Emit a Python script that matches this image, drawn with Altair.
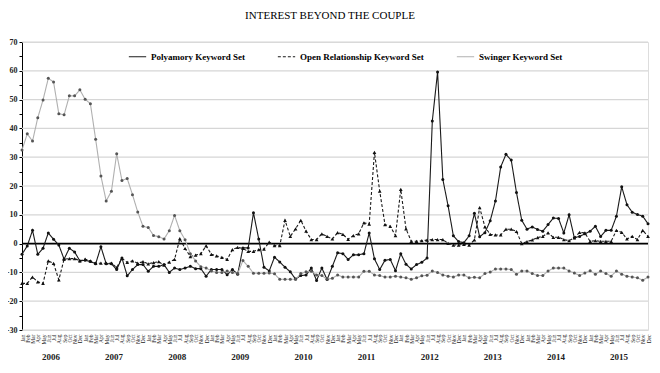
import json
import altair as alt
import pandas as pd

month_names = ["Jan", "Feb", "Mar", "Apr", "May", "Jun", "Jul", "Aug", "Sep", "Oct", "Nov", "Dec"]
years = list(range(2006, 2016))
series_names = ["Polyamory Keyword Set", "Open Relationship Keyword Set", "Swinger Keyword Set"]
grid_values = list(range(-30, 71, 10))

poly = [
    -3.7, -0.8, 4.6, -3.7, -1.6, 3.7, 1.5, -0.5, -5.4, -1.6, -2.9, -6.0,
    -5.8, -6.2, -7.0, -1.1, -7.0, -7.0, -9.0, -5.0, -11.2, -9.0, -7.3, -7.3,
    -9.6, -7.9, -7.9, -7.3, -10.0, -8.5, -9.0, -8.5, -7.9, -8.7, -8.7, -11.3,
    -9.0, -9.0, -9.0, -10.8, -9.0, -10.6, -1.5, -1.5, 10.7, 1.6, -8.2, -9.5,
    -4.7, -6.4, -8.2, -9.8, -12.3, -11.1, -10.9, -8.5, -12.8, -8.5, -12.5, -7.9,
    -3.2, -3.5, -5.5, -3.9, -3.9, -3.5, 3.7, -5.3, -9.0, -5.8, -5.5, -9.4,
    -3.5, -7.2, -8.8, -7.3, -6.5, -5.0, 42.6, 59.6, 22.3, 13.1, 2.7, 0.7,
    0.3, 2.7, 10.5, 2.4, 3.8, 7.9, 14.8, 26.6, 31.0, 29.0, 17.7, 8.1,
    5.0, 5.8, 4.9, 4.3, 6.6, 8.9, 8.7, 3.7, 10.0, 2.0, 2.5, 3.4,
    4.3, 6.0, 2.5, 4.6, 4.6, 9.5, 19.7, 13.5, 10.9, 10.1, 9.5, 6.9,
]

open_rel = [
    -13.8, -13.8, -11.6, -13.3, -13.8, -6.0, -6.9, -12.6, -5.4, -5.2, -5.2, -6.0,
    -5.4, -6.0, -6.8, -6.8, -6.8, -6.8, -8.3, -5.1, -6.5, -6.0, -6.8, -6.3,
    -7.0, -6.6, -6.3, -7.5, -6.4, -5.5, 1.7, -1.7, -4.5, -4.0, -3.5, -0.8,
    -3.7, -4.3, -4.8, -5.5, -2.1, -1.3, -1.7, -2.7, -2.7, -2.1, -1.9, 0.5,
    -0.7, -0.7, 8.1, 2.5, 5.1, 8.1, 4.3, 1.4, 1.4, 3.4, 2.5, 1.6,
    3.8, 3.2, 1.5, 2.8, 3.4, 7.2, 6.8, 31.7, 18.2, 6.6, 6.0, 2.8,
    18.8, 5.1, 0.8, 0.8, 1.0, 1.2, 1.4, 1.4, 1.4, 0.1, -0.5, -0.5,
    -0.3, -0.5, 1.3, 12.5, 5.8, 3.2, 3.0, 3.0, 5.0, 5.0, 4.2, 0.0,
    0.7, 1.3, 2.1, 2.5, 3.7, 2.2, 2.2, 1.4, 1.0, 2.0, 3.9, 3.7,
    0.8, 1.0, 0.8, 0.8, 0.8, 4.6, 3.9, 1.6, 2.5, 1.4, 4.6, 2.5,
]

swinger = [
    32.5, 38.1, 35.6, 43.7, 49.9, 57.4, 56.1, 45.1, 44.7, 51.3, 51.3, 53.4,
    50.1, 48.6, 36.2, 23.5, 14.8, 18.2, 31.2, 21.9, 22.6, 17.0, 11.0, 6.0,
    5.6, 2.8, 2.4, 1.6, 4.5, 9.8, 4.5, 1.3, -3.5, -6.0, -8.0, -8.5,
    -9.5, -10.0, -10.0, -9.5, -10.0, -10.4, -5.9, -7.9, -10.3, -10.3, -10.3, -10.2,
    -10.5, -12.4, -12.4, -12.4, -12.4, -10.4, -9.8, -9.6, -10.9, -11.1, -12.4, -12.0,
    -10.9, -11.6, -11.6, -11.6, -11.6, -9.6, -9.6, -10.9, -11.1, -11.6, -11.6, -11.3,
    -11.6, -11.9, -12.4, -11.9, -11.2, -11.0, -9.5, -10.0, -10.9, -11.3, -11.6, -10.9,
    -10.9, -11.9, -11.7, -11.9, -10.4, -9.9, -8.8, -8.8, -8.8, -9.0, -10.6, -9.5,
    -9.5, -10.4, -11.1, -11.1, -9.5, -8.5, -8.5, -8.5, -9.5, -10.2, -11.1, -10.2,
    -9.4, -10.6, -9.5, -10.4, -11.3, -9.5, -10.6, -11.3, -11.6, -11.9, -12.7, -11.6,
]

rows = []
for name, vals in zip(series_names, [poly, open_rel, swinger]):
    for i, v in enumerate(vals):
        rows.append({"idx": i, "series": name, "value": v})
df = pd.DataFrame(rows)

year_df = pd.DataFrame({"year": [str(y) for y in years], "mid": [5.5 + 12 * k for k in range(len(years))]})
zero_df = pd.DataFrame({"z": [0]})
grid_df = pd.DataFrame({"g": grid_values})

W, H = 626, 288
SERIF = "Liberation Serif"

x_scale = alt.Scale(domain=[0, 119], nice=False, zero=False)
y_scale = alt.Scale(domain=[-30, 70], nice=False, zero=False)

x_axis = alt.Axis(
    values=list(range(120)),
    labelExpr=json.dumps(month_names) + "[datum.value % 12]",
    labelAngle=-90, labelFontSize=5.5, labelFont=SERIF, labelColor="#222",
    labelOverlap=False, labelPadding=4, ticks=False, domain=False, grid=False, title=None,
)
y_axis = alt.Axis(
    values=list(range(-30, 71, 5)),
    labelExpr="datum.value % 10 === 0 ? datum.value : ''",
    grid=False,
    domainColor="black", domainWidth=1, tickColor="black", tickSize=3,
    labelFont=SERIF, labelFontSize=8, labelFontWeight="bold", labelColor="#222",
    labelPadding=2, title=None,
)

legend = alt.Legend(
    orient="none", legendX=106, legendY=5, direction="horizontal", title=None,
    labelFont=SERIF, labelFontSize=9, labelFontWeight="bold", labelColor="black",
    symbolType="stroke", symbolSize=300, symbolStrokeWidth=1.2, columnPadding=30,
    labelOffset=4, labelLimit=300,
)

color_scale = alt.Scale(domain=series_names, range=["#1a1a1a", "#1a1a1a", "#b0b0b0"])
dash_scale = alt.Scale(domain=series_names, range=[[1, 0], [3, 2], [1, 0]])

grid = alt.Chart(grid_df).mark_rule(color="#d6d6d6", strokeWidth=1.2).encode(
    y=alt.Y("g:Q", scale=y_scale, axis=y_axis)
)

zero_rule = alt.Chart(zero_df).mark_rule(color="black", strokeWidth=1.6).encode(
    y=alt.Y("z:Q", scale=y_scale, axis=y_axis)
)

lines = alt.Chart(df).mark_line(strokeWidth=1.1).encode(
    x=alt.X("idx:Q", scale=x_scale, axis=x_axis),
    y=alt.Y("value:Q", scale=y_scale, axis=y_axis),
    color=alt.Color("series:N", scale=color_scale, legend=legend),
    strokeDash=alt.StrokeDash("series:N", scale=dash_scale, legend=legend),
)


def marker_layer(name, shape, size, fill):
    return alt.Chart(df).transform_filter(alt.datum.series == name).mark_point(
        filled=True, shape=shape, size=size, fill=fill, strokeWidth=0, opacity=1
    ).encode(
        x=alt.X("idx:Q", scale=x_scale, axis=x_axis),
        y=alt.Y("value:Q", scale=y_scale, axis=y_axis),
    )


poly_pts = marker_layer(series_names[0], "circle", 9, "#111111")
open_pts = marker_layer(series_names[1], "triangle-up", 14, "#111111")
swing_pts = marker_layer(series_names[2], "circle", 9, "#555555")

year_text = alt.Chart(year_df).mark_text(font=SERIF, fontSize=9, fontWeight="bold", color="#222", baseline="middle").encode(
    x=alt.X("mid:Q", scale=x_scale, axis=x_axis),
    y=alt.value(H + 27),
    text="year:N",
)

chart = alt.layer(grid, zero_rule, lines, poly_pts, open_pts, swing_pts, year_text).properties(
    width=W, height=H,
    autosize=alt.AutoSizeParams(type="none"),
    padding={"left": 14, "top": 34, "right": 4, "bottom": 35},
    title=alt.TitleParams(
        "INTEREST BEYOND THE COUPLE", font=SERIF, fontSize=11, fontWeight="normal",
        color="black", anchor="middle", frame="group", offset=17, dx=-5,
    ),
).configure_view(stroke=None).configure(background="white")

chart.save("out.html", embed_options={"renderer": "svg", "actions": False})
